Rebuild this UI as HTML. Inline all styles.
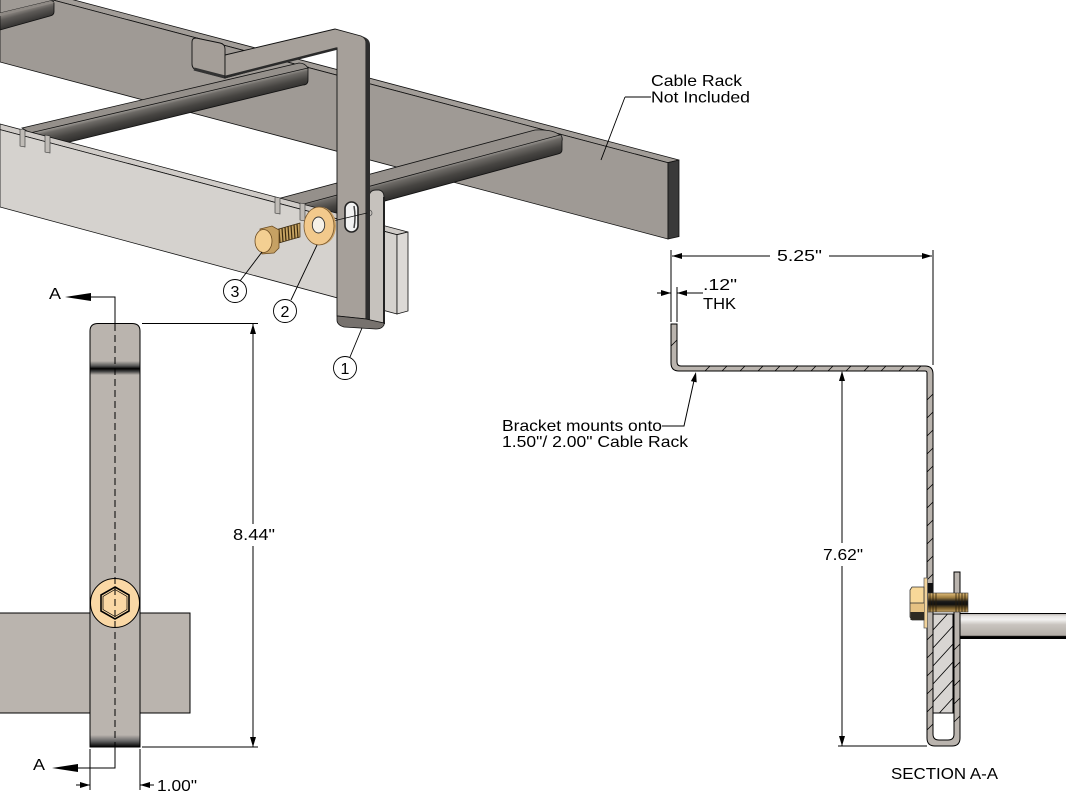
<!DOCTYPE html>
<html><head><meta charset="utf-8"><style>
html,body{margin:0;padding:0;background:#fff;}
svg{display:block;}
text{font-family:"Liberation Sans",Arial,sans-serif;fill:#000;font-size:16px;}
</style></head><body>
<svg width="1066" height="800" viewBox="0 0 1066 800" xmlns="http://www.w3.org/2000/svg">
<defs>
 <linearGradient id="r1g" gradientUnits="userSpaceOnUse" x1="160" y1="101" x2="164.5" y2="120">
  <stop offset="0" stop-color="#b4b0ab"/><stop offset="0.25" stop-color="#6d6a66"/><stop offset="0.6" stop-color="#474542"/><stop offset="1" stop-color="#2c2b2a"/>
 </linearGradient>
 <linearGradient id="r2g" gradientUnits="userSpaceOnUse" x1="450" y1="162" x2="455.5" y2="183">
  <stop offset="0" stop-color="#b4b0ab"/><stop offset="0.25" stop-color="#6d6a66"/><stop offset="0.6" stop-color="#474542"/><stop offset="1" stop-color="#2c2b2a"/>
 </linearGradient>
 <linearGradient id="r0g" gradientUnits="userSpaceOnUse" x1="25" y1="9" x2="29" y2="24">
  <stop offset="0" stop-color="#8a8580"/><stop offset="0.3" stop-color="#5d5a57"/><stop offset="1" stop-color="#2c2b2a"/>
 </linearGradient>
 <linearGradient id="tband" gradientUnits="userSpaceOnUse" x1="0" y1="361" x2="0" y2="375">
  <stop offset="0" stop-color="#bab4ae"/><stop offset="0.35" stop-color="#555"/><stop offset="0.55" stop-color="#000"/><stop offset="0.75" stop-color="#444"/><stop offset="1" stop-color="#bab4ae"/>
 </linearGradient>
 <linearGradient id="bband" gradientUnits="userSpaceOnUse" x1="0" y1="735" x2="0" y2="747">
  <stop offset="0" stop-color="#bab4ae"/><stop offset="0.5" stop-color="#666"/><stop offset="1" stop-color="#000"/>
 </linearGradient>
 <linearGradient id="cyl" gradientUnits="userSpaceOnUse" x1="0" y1="613" x2="0" y2="639">
  <stop offset="0" stop-color="#a9a39e"/><stop offset="0.12" stop-color="#e6e4e2"/><stop offset="0.25" stop-color="#f4f3f2"/><stop offset="0.45" stop-color="#c9c4bf"/><stop offset="0.86" stop-color="#b3ada7"/><stop offset="0.9" stop-color="#000"/><stop offset="1" stop-color="#000"/>
 </linearGradient>
 <linearGradient id="thr" gradientUnits="userSpaceOnUse" x1="0" y1="593" x2="0" y2="612">
  <stop offset="0" stop-color="#e3bf7c"/><stop offset="0.25" stop-color="#9a7a3e"/><stop offset="0.45" stop-color="#1a1a1a"/><stop offset="0.6" stop-color="#111"/><stop offset="0.8" stop-color="#7a5e2c"/><stop offset="1" stop-color="#c9a664"/>
 </linearGradient>
 <clipPath id="rackclip"><rect x="933" y="614" width="20" height="99"/></clipPath>
</defs>

<!-- ===== ISOMETRIC VIEW ===== -->
<!-- back rail -->
<polygon points="0,-19.6 679,160 668,162.7 0,-14" fill="#a29d98" stroke="#111" stroke-width="0.8"/>
<polygon points="0,-14 668,162.7 668,239 0,62" fill="#9f9a95" stroke="#111" stroke-width="0.8"/>
<polygon points="668,162.7 679,160 679,236.5 668,239" fill="#3a3a3a" stroke="#111" stroke-width="0.8"/>

<!-- rung 0 (top-left) -->
<path d="M0,13 L50,1 Q54,0 54,4 L54,12 Q54,15 50,16 L0,30 Z" fill="url(#r0g)" stroke="#111" stroke-width="0.8"/>
<path d="M0,13 L50,1 Q53,1 54,3 L0,16 Z" fill="#8e8984"/>

<!-- rung 1 -->
<path d="M26,132 L308,67 L308,80 Q308,85 303,85 L45,148 Z" fill="url(#r1g)" stroke="#111" stroke-width="0.8"/>
<path d="M22,128 L299,63 Q305,63 308,68 L30,133 Z" fill="#95908b" stroke="#111" stroke-width="0.8"/>

<!-- rung 2 -->
<path d="M290,203 L560,134 Q563,137 562,141 L562,150 Q562,153 558,154 L300,224 Z" fill="url(#r2g)" stroke="#111" stroke-width="0.8"/>
<path d="M277,199 L535,130 Q552,129 560,135 L300,205 Z" fill="#95908b" stroke="#111" stroke-width="0.8"/>

<!-- front rail -->
<polygon points="0,124 408,232 397,234.7 0,129.6" fill="#cfcbc7" stroke="#111" stroke-width="0.8"/>
<polygon points="0,129.6 397,234.7 397,314 0,207" fill="#d5d2ce" stroke="#111" stroke-width="0.8"/>
<polygon points="397,234.7 408,232 408,311 397,314" fill="#dcd9d6" stroke="#111" stroke-width="0.8"/>

<!-- rung feet tabs -->
<polygon points="20,129 25,130 25,147 20,146" fill="#bfbbb6" stroke="#333" stroke-width="0.6"/>
<polygon points="45,135 50,136 50,153 45,152" fill="#bfbbb6" stroke="#333" stroke-width="0.6"/>
<polygon points="275,197 280,198 280,214 275,213" fill="#bfbbb6" stroke="#333" stroke-width="0.6"/>
<polygon points="300,203 305,204 305,221 300,220" fill="#bfbbb6" stroke="#333" stroke-width="0.6"/>

<!-- bracket back leg -->
<path d="M369,196 Q370,190 376,190 L379,190 Q384,191 384,197 L384,324 L369,322 Z" fill="#c6c2bd" stroke="#222" stroke-width="1"/>
<line x1="384" y1="197" x2="384" y2="324" stroke="#222" stroke-width="2"/>
<circle cx="369" cy="213" r="3" fill="none" stroke="#555" stroke-width="0.8"/>

<!-- bracket clip -->
<path d="M196,38 L220,43 Q225,44 225,49 L225,78 L198,71 Q192,69 192,64 L192,42 Q192,38 196,38 Z" fill="#a49e98" stroke="#111" stroke-width="0.9"/>
<line x1="194" y1="69" x2="225" y2="77" stroke="#333" stroke-width="3"/>

<!-- bracket strip + vertical -->
<path d="M225,55 L335,29 L361,36 Q366,38 366,43 L366,319 L337,316 L337,48 L225,78 Z" fill="#a6a09a" stroke="#111" stroke-width="0.9"/>
<path d="M361,36 Q370,38 370,45 L370,321 L366,319 L366,43 Q366,38 361,36 Z" fill="#2e2e2e"/>
<line x1="225" y1="77" x2="337" y2="48.5" stroke="#2a2a2a" stroke-width="2.5"/>
<path d="M337,316 L366,319 L384,323 L384,325 Q382,329 376,329 L344,327 Q337,325 337,320 Z" fill="#77726e" stroke="#111" stroke-width="0.8"/>

<!-- slot -->
<rect x="345" y="202" width="13" height="30" rx="6.5" fill="#f2f2f2" stroke="#222" stroke-width="1.6"/>
<path d="M354,206 Q356,217 354,228" fill="none" stroke="#444" stroke-width="1.5"/>

<!-- axis line -->
<line x1="333" y1="221" x2="367" y2="213" stroke="#111" stroke-width="0.8"/>

<!-- washer -->
<ellipse cx="321" cy="226" rx="15" ry="19" fill="#c99f62"/>
<ellipse cx="319" cy="226" rx="15" ry="19" fill="#f2c98c" stroke="#7a5a30" stroke-width="0.8"/>
<ellipse cx="318.5" cy="225" rx="6.2" ry="8" fill="#f6f1e8" stroke="#333" stroke-width="0.9"/>

<!-- bolt threads -->
<polygon points="277,229.5 300,223 300,237 277,243.5" fill="#c7a462" stroke="#3a2a10" stroke-width="0.7"/>
<g stroke="#3a2a10" stroke-width="1.2">
 <line x1="279" y1="229" x2="280" y2="243"/><line x1="282" y1="228" x2="283" y2="242"/>
 <line x1="285" y1="227" x2="286" y2="241"/><line x1="288" y1="226" x2="289" y2="240"/>
 <line x1="291" y1="225.5" x2="292" y2="239.5"/><line x1="294" y1="224.5" x2="295" y2="238.5"/>
 <line x1="297" y1="224" x2="298" y2="238"/>
</g>
<!-- bolt head -->
<polygon points="260,229 272,226 279,230 279,248 274,253 262,254" fill="#c6a164" stroke="#6a4a20" stroke-width="0.8"/>
<ellipse cx="263.5" cy="241" rx="8.5" ry="11.5" fill="#f3cf92" stroke="#6a4a20" stroke-width="0.8"/>

<!-- balloons + leaders -->
<g stroke="#000" stroke-width="0.9" fill="none">
 <line x1="262" y1="252" x2="240" y2="281"/>
 <line x1="317" y1="245" x2="291" y2="300"/>
 <line x1="362" y1="328" x2="350" y2="357"/>
 <circle cx="235" cy="291" r="11.5" fill="#fff"/>
 <circle cx="285" cy="311" r="11.5" fill="#fff"/>
 <circle cx="345" cy="368" r="11.5" fill="#fff"/>
 <line x1="651" y1="97" x2="625" y2="97"/>
 <line x1="625" y1="97" x2="601" y2="160"/>
</g>
<text x="235" y="297" text-anchor="middle">3</text>
<text x="285" y="317" text-anchor="middle">2</text>
<text x="345" y="374" text-anchor="middle">1</text>

<text x="651" y="86" textLength="91" lengthAdjust="spacingAndGlyphs">Cable Rack</text>
<text x="651" y="102.5" textLength="99" lengthAdjust="spacingAndGlyphs">Not Included</text>

<!-- ===== FRONT VIEW ===== -->
<rect x="-2" y="613" width="192" height="100" fill="#bab4ae" stroke="#000" stroke-width="1"/>
<path d="M90,747 L90,331 Q90,323.5 98,323.5 L132,323.5 Q140,323.5 140,331 L140,747 Z" fill="#bab4ae" stroke="#000" stroke-width="1"/>
<rect x="90.5" y="361" width="49" height="14" fill="url(#tband)"/>
<rect x="90.5" y="735" width="49" height="12" fill="url(#bband)"/>
<circle cx="115" cy="603" r="24.5" fill="#fad8a5" stroke="#000" stroke-width="1"/>
<polygon points="115,587 129,595 129,611 115,619 101,611 101,595" fill="none" stroke="#000" stroke-width="1.6"/>
<polygon points="115,589.5 127,596.5 127,609.5 115,616.5 103,609.5 103,596.5" fill="none" stroke="#000" stroke-width="0.7"/>
<line x1="115" y1="324" x2="115" y2="747" stroke="#000" stroke-width="1" stroke-dasharray="7 4"/>

<!-- section arrows -->
<g stroke="#000" stroke-width="1" fill="none">
 <polyline points="90,297 115,297 115,324"/>
 <polyline points="78,768 115,768 115,747"/>
</g>
<polygon points="65,297 91,293 91,301" fill="#000"/>
<polygon points="52,768 78,764 78,772" fill="#000"/>
<text x="49" y="299" textLength="12" lengthAdjust="spacingAndGlyphs">A</text>
<text x="33" y="770" textLength="12" lengthAdjust="spacingAndGlyphs">A</text>

<!-- 8.44 dim -->
<g stroke="#000" stroke-width="1">
 <line x1="142" y1="323.5" x2="258" y2="323.5"/>
 <line x1="142" y1="747" x2="258" y2="747"/>
 <line x1="253" y1="324" x2="253" y2="524"/>
 <line x1="253" y1="546" x2="253" y2="747"/>
 <line x1="90" y1="749" x2="90" y2="790"/>
 <line x1="140" y1="749" x2="140" y2="790"/>
 <line x1="76" y1="785" x2="90" y2="785"/>
 <line x1="140" y1="785" x2="154" y2="785"/>
</g>
<polygon points="253,324 250,334 256,334" fill="#000"/>
<polygon points="253,747 250,737 256,737" fill="#000"/>
<polygon points="90,785 80,782 80,788" fill="#000"/>
<polygon points="140,785 150,782 150,788" fill="#000"/>
<text x="233" y="540" textLength="42" lengthAdjust="spacingAndGlyphs">8.44"</text>
<text x="157" y="791" textLength="40" lengthAdjust="spacingAndGlyphs">1.00"</text>

<!-- ===== SECTION A-A ===== -->
<!-- dims -->
<g stroke="#000" stroke-width="1">
 <line x1="671" y1="250" x2="671" y2="322"/>
 <line x1="677" y1="287" x2="677" y2="322"/>
 <line x1="933" y1="250" x2="933" y2="365"/>
 <line x1="672" y1="256" x2="770" y2="256"/>
 <line x1="829" y1="256" x2="932" y2="256"/>
 <line x1="657" y1="293" x2="671" y2="293"/>
 <line x1="677" y1="293" x2="703" y2="293"/>
 <line x1="842" y1="372" x2="842" y2="543"/>
 <line x1="842" y1="566" x2="842" y2="746"/>
 <line x1="838" y1="746" x2="927" y2="746"/>
 <polyline points="662,426 684,426 695,376" fill="none"/>
</g>
<polygon points="672,256 682,253 682,259" fill="#000"/>
<polygon points="932,256 922,253 922,259" fill="#000"/>
<polygon points="671,293 661,290 661,296" fill="#000"/>
<polygon points="677,293 687,290 687,296" fill="#000"/>
<polygon points="842,371 839,381 845,381" fill="#000"/>
<polygon points="842,746 839,736 845,736" fill="#000"/>
<polygon points="696,372 696.7,382.4 690.9,381.1" fill="#000"/>

<text x="777" y="261" textLength="45" lengthAdjust="spacingAndGlyphs">5.25"</text>
<text x="703" y="290" textLength="34" lengthAdjust="spacingAndGlyphs">.12"</text>
<text x="703" y="309" textLength="33" lengthAdjust="spacingAndGlyphs">THK</text>
<text x="502" y="431" textLength="160" lengthAdjust="spacingAndGlyphs">Bracket mounts onto</text>
<text x="502" y="447" textLength="186" lengthAdjust="spacingAndGlyphs">1.50"/ 2.00" Cable Rack</text>
<text x="823" y="560" textLength="40" lengthAdjust="spacingAndGlyphs">7.62"</text>
<text x="891" y="779" textLength="107" lengthAdjust="spacingAndGlyphs">SECTION A-A</text>

<!-- rung cylinder -->
<rect x="960" y="613" width="108" height="26" fill="url(#cyl)"/>
<line x1="960" y1="613.5" x2="1066" y2="613.5" stroke="#000" stroke-width="1"/>

<!-- bracket profile -->
<path d="M671,324 H677 V362 Q677,366 681,366 H925 Q933,366 933,374 V734 Q933,740 939,740 H948 Q954,740 954,734 V572 H960 V738 Q960,746 952,746 H935 Q927,746 927,738 V373 Q927,371 925,371 H679 Q671,371 671,363 Z" fill="#bab4ae" stroke="#000" stroke-width="1"/>

<!-- hatch ticks -->
<g stroke="#000" stroke-width="0.8">
 <line x1="671" y1="346" x2="677" y2="340"/>
 <line x1="705" y1="371" x2="710" y2="366"/><line x1="722" y1="371" x2="727" y2="366"/>
 <line x1="740" y1="371" x2="745" y2="366"/><line x1="758" y1="371" x2="763" y2="366"/>
 <line x1="775" y1="371" x2="780" y2="366"/><line x1="793" y1="371" x2="798" y2="366"/>
 <line x1="811" y1="371" x2="816" y2="366"/><line x1="828" y1="371" x2="833" y2="366"/>
 <line x1="846" y1="371" x2="851" y2="366"/><line x1="864" y1="371" x2="869" y2="366"/>
 <line x1="881" y1="371" x2="886" y2="366"/><line x1="899" y1="371" x2="904" y2="366"/>
 <line x1="916" y1="371" x2="921" y2="366"/>
 <line x1="927" y1="400" x2="933" y2="394"/><line x1="927" y1="418" x2="933" y2="412"/>
 <line x1="927" y1="436" x2="933" y2="430"/><line x1="927" y1="454" x2="933" y2="448"/>
 <line x1="927" y1="472" x2="933" y2="466"/><line x1="927" y1="490" x2="933" y2="484"/>
 <line x1="927" y1="508" x2="933" y2="502"/><line x1="927" y1="526" x2="933" y2="520"/>
 <line x1="927" y1="544" x2="933" y2="538"/><line x1="927" y1="562" x2="933" y2="556"/>
 <line x1="927" y1="580" x2="933" y2="574"/><line x1="927" y1="640" x2="933" y2="634"/>
 <line x1="927" y1="658" x2="933" y2="652"/><line x1="927" y1="676" x2="933" y2="670"/>
 <line x1="927" y1="694" x2="933" y2="688"/><line x1="927" y1="712" x2="933" y2="706"/>
 <line x1="927" y1="730" x2="933" y2="724"/>
 <line x1="954" y1="650" x2="960" y2="644"/><line x1="954" y1="668" x2="960" y2="662"/>
 <line x1="954" y1="686" x2="960" y2="680"/><line x1="954" y1="704" x2="960" y2="698"/>
 <line x1="954" y1="722" x2="960" y2="716"/>
</g>

<!-- rack inside U -->
<rect x="933" y="614" width="20" height="99" fill="#d8d5d2" stroke="#000" stroke-width="1"/>
<g clip-path="url(#rackclip)" stroke="#000" stroke-width="0.8">
 <line x1="933" y1="630" x2="953" y2="608"/><line x1="933" y1="648" x2="953" y2="626"/>
 <line x1="933" y1="666" x2="953" y2="644"/><line x1="933" y1="684" x2="953" y2="662"/>
 <line x1="933" y1="702" x2="953" y2="680"/><line x1="933" y1="720" x2="953" y2="698"/>
 <line x1="933" y1="738" x2="953" y2="716"/>
</g>

<!-- section bolt -->
<rect x="927" y="583" width="6" height="10" fill="#111"/>
<rect x="924" y="578" width="3.5" height="50" fill="#f2d39b" stroke="#555" stroke-width="0.7"/>
<polygon points="912,587 924,587 924,620 912,620 910,617 910,590" fill="#f8d898" stroke="#333" stroke-width="0.8"/>
<rect x="910.5" y="603" width="13.5" height="9" fill="#e6c283"/>
<rect x="910.5" y="612" width="13.5" height="8" fill="#2e2a22"/>
<line x1="910" y1="603" x2="924" y2="603" stroke="#333" stroke-width="0.8"/>
<rect x="928" y="593" width="40" height="19" fill="url(#thr)"/>
<g stroke="#2a1e0a" stroke-width="0.8">
 <line x1="930" y1="593" x2="930" y2="612"/><line x1="933" y1="593" x2="933" y2="612"/>
 <line x1="936" y1="593" x2="936" y2="612"/><line x1="956" y1="593" x2="956" y2="612"/>
 <line x1="959" y1="593" x2="959" y2="612"/><line x1="962" y1="593" x2="962" y2="612"/>
 <line x1="965" y1="593" x2="965" y2="612"/>
</g>
<rect x="928" y="593" width="40" height="19" fill="none" stroke="#333" stroke-width="0.6"/>
</svg>
</body></html>
